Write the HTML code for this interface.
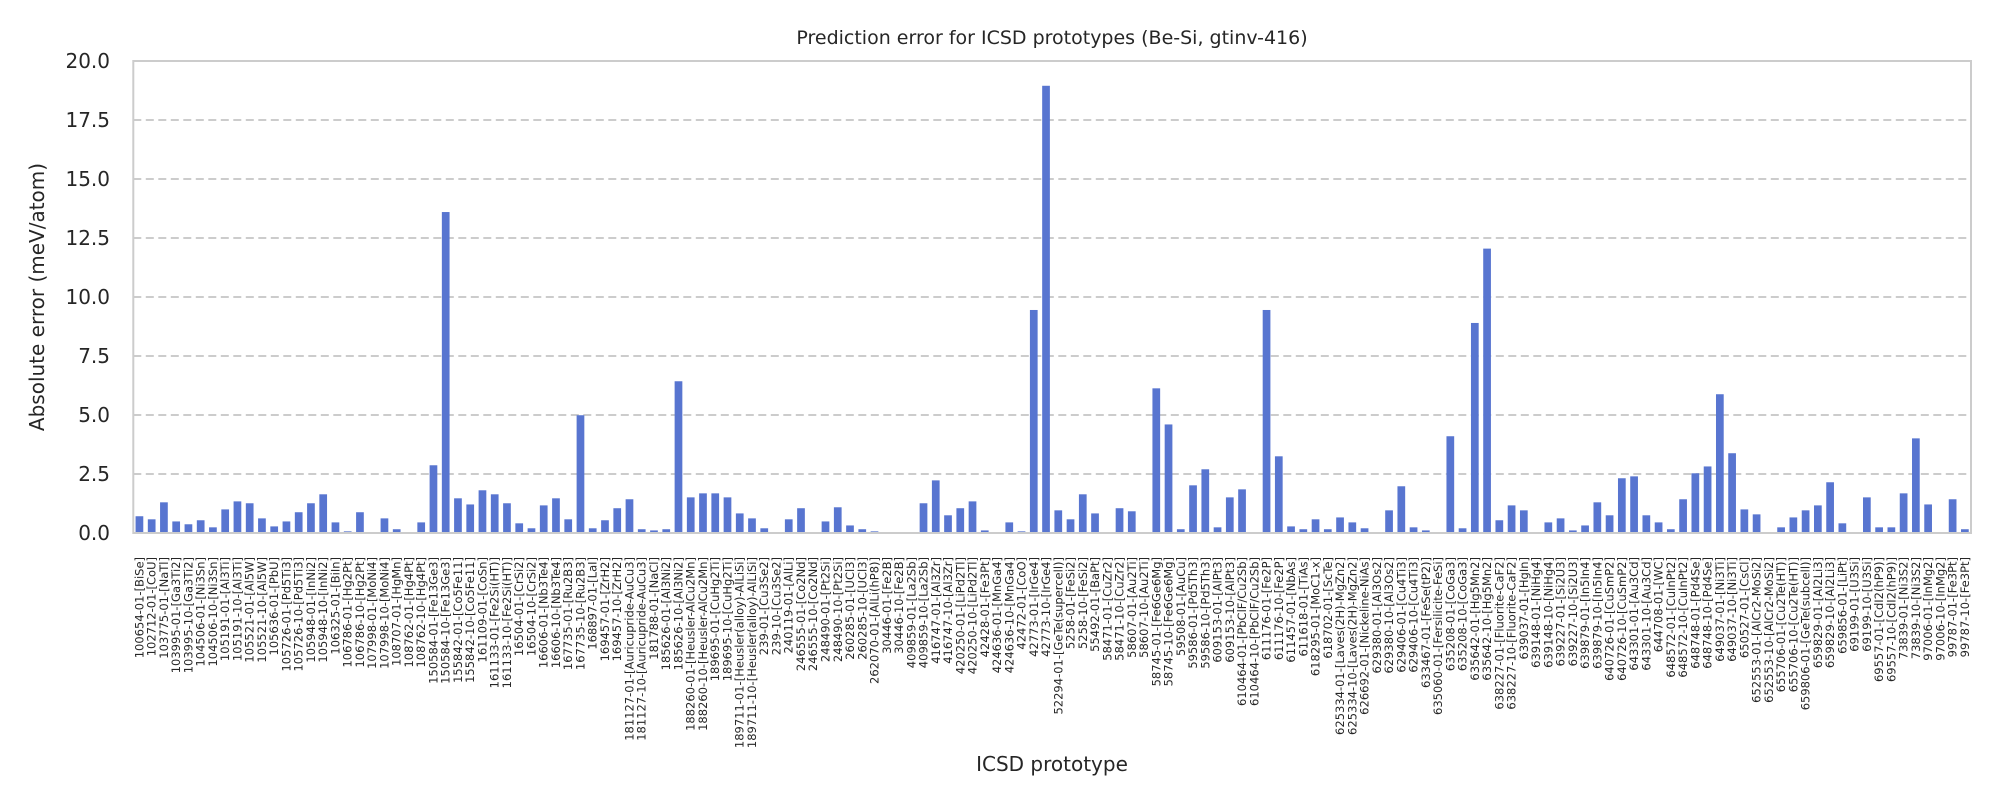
<!DOCTYPE html>
<html><head><meta charset="utf-8">
<style>
html,body{margin:0;padding:0;background:#fff;width:2000px;height:800px;overflow:hidden}
svg{display:block;font-family:"DejaVu Sans","Liberation Sans",sans-serif}
</style></head>
<body>
<svg id="chart" width="2000" height="800" viewBox="0 0 2000 800" xmlns="http://www.w3.org/2000/svg">
<text x="1052" y="44" font-size="19" text-anchor="middle" fill="#262626">Prediction error for ICSD prototypes (Be-Si, gtinv-416)</text>
<text x="0" y="0" font-size="20" text-anchor="middle" fill="#262626" transform="translate(44,297) rotate(-90)">Absolute error (meV/atom)</text>
<text x="1052" y="771" font-size="20" text-anchor="middle" fill="#262626">ICSD prototype</text>
<g id="grid"></g><g id="bars"></g><g id="yticks"></g><g id="xticks"></g>
<rect x="133.3" y="61" width="1837.7" height="472" fill="none" stroke="#cccccc" stroke-width="2"/>
</svg>
<script>
const categories = ["100654-01-[BiSe]","102712-01-[CoU]","103775-01-[NaTl]","103995-01-[Ga3Ti2]","103995-10-[Ga3Ti2]","104506-01-[Ni3Sn]","104506-10-[Ni3Sn]","105191-01-[Al3Ti]","105191-10-[Al3Ti]","105521-01-[Al5W]","105521-10-[Al5W]","105636-01-[PbU]","105726-01-[Pd5Ti3]","105726-10-[Pd5Ti3]","105948-01-[InNi2]","105948-10-[InNi2]","106325-01-[BiIn]","106786-01-[Hg2Pt]","106786-10-[Hg2Pt]","107998-01-[MoNi4]","107998-10-[MoNi4]","108707-01-[HgMn]","108762-01-[Hg4Pt]","108762-10-[Hg4Pt]","150584-01-[Fe13Ge3]","150584-10-[Fe13Ge3]","155842-01-[Co5Fe11]","155842-10-[Co5Fe11]","161109-01-[CoSn]","161133-01-[Fe2Si(HT)]","161133-10-[Fe2Si(HT)]","16504-01-[CrSi2]","16504-10-[CrSi2]","16606-01-[Nb3Te4]","16606-10-[Nb3Te4]","167735-01-[Ru2B3]","167735-10-[Ru2B3]","168897-01-[LaI]","169457-01-[ZrH2]","169457-10-[ZrH2]","181127-01-[Auricupride-AuCu3]","181127-10-[Auricupride-AuCu3]","181788-01-[NaCl]","185626-01-[Al3Ni2]","185626-10-[Al3Ni2]","188260-01-[Heusler-AlCu2Mn]","188260-10-[Heusler-AlCu2Mn]","189695-01-[CuHg2Ti]","189695-10-[CuHg2Ti]","189711-01-[Heusler(alloy)-AlLiSi]","189711-10-[Heusler(alloy)-AlLiSi]","239-01-[Cu3Se2]","239-10-[Cu3Se2]","240119-01-[AlLi]","246555-01-[Co2Nd]","246555-10-[Co2Nd]","248490-01-[Pt2Si]","248490-10-[Pt2Si]","260285-01-[UCl3]","260285-10-[UCl3]","262070-01-[AlLi(hP8)]","30446-01-[Fe2B]","30446-10-[Fe2B]","409859-01-[La2Sb]","409859-10-[La2Sb]","416747-01-[Al3Zr]","416747-10-[Al3Zr]","420250-01-[LiPd2Tl]","420250-10-[LiPd2Tl]","42428-01-[Fe3Pt]","424636-01-[MnGa4]","424636-10-[MnGa4]","42472-01-[CoO]","42773-01-[IrGe4]","42773-10-[IrGe4]","52294-01-[GeTe(supercell)]","5258-01-[FeSi2]","5258-10-[FeSi2]","55492-01-[BaPt]","58471-01-[CuZr2]","58471-10-[CuZr2]","58607-01-[Au2Ti]","58607-10-[Au2Ti]","58745-01-[Fe6Ge6Mg]","58745-10-[Fe6Ge6Mg]","59508-01-[AuCu]","59586-01-[Pd5Th3]","59586-10-[Pd5Th3]","609153-01-[AlPt3]","609153-10-[AlPt3]","610464-01-[PbClF/Cu2Sb]","610464-10-[PbClF/Cu2Sb]","611176-01-[Fe2P]","611176-10-[Fe2P]","611457-01-[NbAs]","611618-01-[TiAs]","618295-01-[MoC1-x]","618702-01-[ScTe]","625334-01-[Laves(2H)-MgZn2]","625334-10-[Laves(2H)-MgZn2]","626692-01-[Nickeline-NiAs]","629380-01-[Al3Os2]","629380-10-[Al3Os2]","629406-01-[Cu4Ti3]","629406-10-[Cu4Ti3]","633467-01-[FeSe(tP2)]","635060-01-[Fersilicite-FeSi]","635208-01-[CoGa3]","635208-10-[CoGa3]","635642-01-[Hg5Mn2]","635642-10-[Hg5Mn2]","638227-01-[Fluorite-CaF2]","638227-10-[Fluorite-CaF2]","639037-01-[HgIn]","639148-01-[NiHg4]","639148-10-[NiHg4]","639227-01-[Si2U3]","639227-10-[Si2U3]","639879-01-[In5In4]","639879-10-[In5In4]","640726-01-[CuSmP2]","640726-10-[CuSmP2]","643301-01-[Au3Cd]","643301-10-[Au3Cd]","644708-01-[WC]","648572-01-[CuInPt2]","648572-10-[CuInPt2]","648748-01-[Pd4Se]","648748-10-[Pd4Se]","649037-01-[Ni3Ti]","649037-10-[Ni3Ti]","650527-01-[CsCl]","652553-01-[AlCr2-MoSi2]","652553-10-[AlCr2-MoSi2]","655706-01-[Cu2Te(HT)]","655706-10-[Cu2Te(HT)]","659806-01-[GeTe(subcell)]","659829-01-[Al2Li3]","659829-10-[Al2Li3]","659856-01-[LiPt]","69199-01-[U3Si]","69199-10-[U3Si]","69557-01-[CdI2(hP9)]","69557-10-[CdI2(hP9)]","73839-01-[Ni3S2]","73839-10-[Ni3S2]","97006-01-[InMg2]","97006-10-[InMg2]","99787-01-[Fe3Pt]","99787-10-[Fe3Pt]"];
const errors = [0.71,0.58,1.30,0.49,0.37,0.54,0.24,1.00,1.34,1.26,0.62,0.28,0.49,0.88,1.26,1.64,0.45,0.07,0.88,0.00,0.62,0.16,0.03,0.45,2.87,
13.6,1.47,1.21,1.81,1.64,1.26,0.41,0.20,1.17,1.47,0.58,4.99,0.20,0.54,1.05,1.43,0.16,0.11,0.16,6.43,1.51,1.68,1.68,1.51,0.83,
0.62,0.20,0.03,0.58,1.05,0.00,0.49,1.09,0.32,0.16,0.07,0.03,0.03,0.00,1.26,2.23,0.75,1.05,1.34,0.11,0.03,0.45,0.07,9.45,18.95,
0.96,0.58,1.64,0.83,0.00,1.05,0.92,0.00,6.13,4.60,0.16,2.02,2.70,0.24,1.51,1.85,0.00,9.45,3.25,0.28,0.16,0.58,0.16,0.66,0.45,
0.20,0.00,0.96,1.98,0.24,0.11,0.00,4.10,0.20,8.90,12.05,0.54,1.17,0.96,0.03,0.45,0.62,0.11,0.32,1.30,0.75,2.32,2.40,0.75,0.45,
0.16,1.43,2.53,2.82,5.88,3.38,1.00,0.79,0.00,0.24,0.66,0.96,1.17,2.15,0.41,0.03,1.51,0.24,0.24,1.68,4.01,1.21,0.00,1.43,0.16];
const yTicks = [0,2.5,5,7.5,10,12.5,15,17.5,20];
const yTickLabels = ["0.0","2.5","5.0","7.5","10.0","12.5","15.0","17.5","20.0"];

const NS = "http://www.w3.org/2000/svg";
const X0 = 133.3, X1 = 1971, Y0 = 533, Y1 = 61, YMAX = 20;
const step = (X1 - X0) / categories.length;
function xPos(i){ return X0 + step * (i + 0.5); }
function yPos(v){ return Y0 - (v / YMAX) * (Y0 - Y1); }
function mk(tag, attrs){ const e = document.createElementNS(NS, tag); for (const k in attrs) e.setAttribute(k, attrs[k]); return e; }

const grid = document.getElementById('grid');
const yt = document.getElementById('yticks');
yTicks.forEach((t, k) => {
  const y = yPos(t);
  if (t > 0 && t < YMAX) {
    const l = mk('line', {x1: X0, x2: X1, y1: y, y2: y, stroke: '#cccccc', 'stroke-width': 2, 'stroke-dasharray': '8,4.5'});
    
    
    grid.appendChild(l);
  }
  const tx = mk('text', {x: 110, y: y + 7, 'font-size': 20, 'text-anchor': 'end', fill: '#262626'});
  tx.textContent = yTickLabels[k];
  
  
  yt.appendChild(tx);
});

const bars = document.getElementById('bars');
const xt = document.getElementById('xticks');
const bw = step * 0.63;
errors.forEach((v, i) => {
  const cx = xPos(i);
  const y = yPos(v);
  const r = mk('rect', {x: cx - bw / 2, y: y, width: bw, height: Math.max(0, Y0 - y), fill: '#5875d0'});
  
  
  bars.appendChild(r);
  const t = mk('text', {x: 0, y: 0, 'font-size': 11.5, 'text-anchor': 'end', fill: '#262626', transform: 'translate(' + (cx + 4) + ',557) rotate(-90)'});
  t.textContent = categories[i];
  
  
  xt.appendChild(t);
});
</script>
</body></html>
